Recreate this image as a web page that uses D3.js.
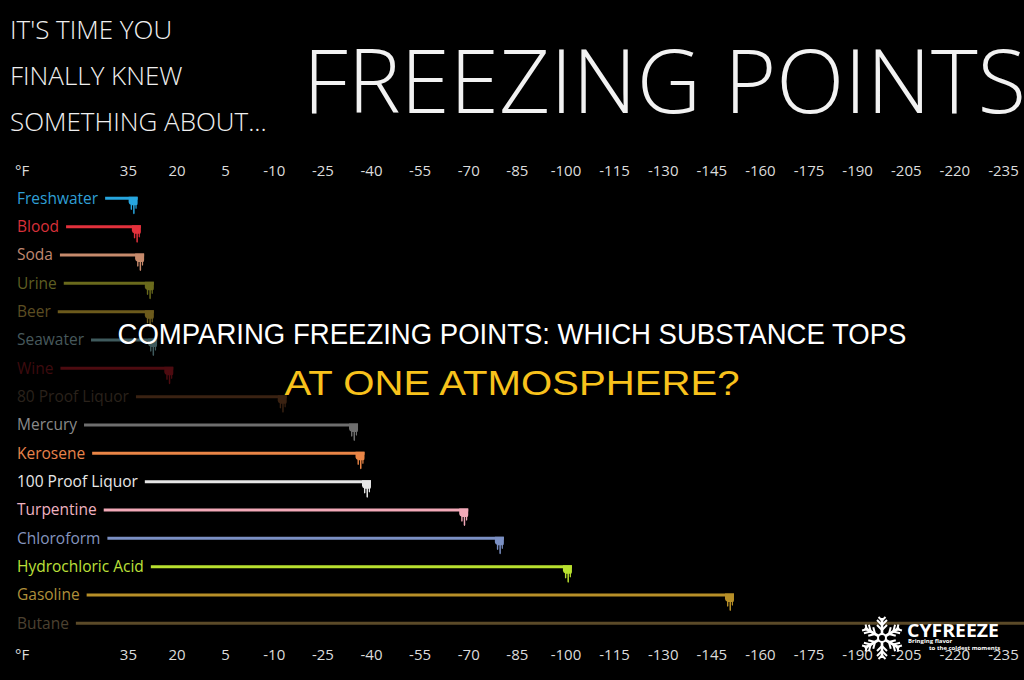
<!DOCTYPE html>
<html><head><meta charset="utf-8">
<script src="https://cdn.jsdelivr.net/npm/d3@7"></script>
<style>html,body{margin:0;padding:0;background:#000;overflow:hidden}</style>
</head><body>
<svg id="c" width="1024" height="680"></svg>
<script>
const substances = ["Freshwater","Blood","Soda","Urine","Beer","Seawater","Wine","80 Proof Liquor","Mercury","Kerosene","100 Proof Liquor","Turpentine","Chloroform","Hydrochloric Acid","Gasoline","Butane"];
const freezingF = [32,31,30,27,27,26,21,-14,-36,-38,-40,-70,-81,-102,-152,-260];
const tickValues = [35,20,5,-10,-25,-40,-55,-70,-85,-100,-115,-130,-145,-160,-175,-190,-205,-220,-235];
const barColors = ["#27a6df","#e3313c","#c68a6c","#6a6a1c","#6c5a1c","#3f5a5d","#4d0b10","#3a2212","#6e6e6e","#ea8546","#e6e6e6","#f2a9b8","#7b90c4","#b9e02f","#b78f28","#5b4a28"];
const labelColors = ["#2f9fd6","#d8303a","#c08870","#5e5e22","#5c4d22","#47595c","#3d0b0e","#2a221b","#8a8a8a","#e8844c","#e8e8e8","#efb2c0","#8595bf","#bde03a","#b08f3a","#4c4130"];
const titleLines = ["IT'S TIME YOU","FINALLY KNEW","SOMETHING ABOUT..."];

const svg = d3.select("#c");
svg.append("rect").attr("width",1024).attr("height",680).attr("fill","#000");

const font = "'Open Sans', 'DejaVu Sans', sans-serif";

// titles
svg.selectAll("text.tl").data(titleLines).enter().append("text")
  .attr("class","tl").attr("x",10).attr("y",(d,i)=>39+i*46)
  .attr("fill","#f0f0f0").style("font-family",font).style("font-size","26px").style("font-weight",300)
  .text(d=>d);
svg.append("text").attr("x",303).attr("y",113)
  .attr("fill","#f2f2f2").style("font-family",font).style("font-size","89px").style("font-weight",300)
  .text("FREEZING POINTS");

const x = d3.scaleLinear().domain([35,-235]).range([127.9,1003]);
const y = d3.scalePoint().domain(substances).range([198.3,623.3]);

function drawAxis(yy){
  const g = svg.append("g").attr("transform",`translate(0,${yy})`)
    .call(d3.axisTop(x).tickValues(tickValues).tickSize(0).tickPadding(0).tickFormat(d=>d));
  g.select(".domain").remove();
  g.selectAll("text").attr("fill","#dcdcdc").style("font-family",font).style("font-size","15px");
  svg.append("text").attr("x",15).attr("y",yy).attr("fill","#dcdcdc")
    .style("font-family",font).style("font-size","15px").text("°F");
}
drawAxis(176);
drawAxis(660);

const rows = substances.map((s,i)=>({name:s,value:freezingF[i],bar:barColors[i],lab:labelColors[i]}));
const row = svg.selectAll("g.row").data(rows).enter().append("g").attr("class","row")
  .attr("transform",d=>`translate(0,${y(d.name)})`);
row.append("text").attr("x",17).attr("y",5.5).attr("fill",d=>d.lab)
  .style("font-family",font).style("font-size","15.5px").text(d=>d.name);
row.each(function(d){
  const t = d3.select(this).select("text").node();
  d.x0 = 17 + t.getComputedTextLength() + 7;
});
row.append("line").attr("x1",d=>d.x0).attr("x2",d=>x(d.value)).attr("y1",0).attr("y2",0)
  .attr("stroke",d=>d.bar).attr("stroke-width",3);
const drip = "M-9,-1.5 H0 V5 Q0,7 -1,7 V10 Q-1.5,11.5 -2.2,10 V7 H-3 V15 Q-3.7,17 -4.5,15 V7 H-5.6 V11 Q-6.3,12.5 -7,11 V6.5 Q-8.5,6 -9,4 Z";
row.append("path").attr("d",drip).attr("fill",d=>d.bar)
  .attr("transform",d=>`translate(${x(d.value)},0)`);

// overlay caption
svg.append("text").attr("x",512).attr("y",344).attr("text-anchor","middle")
  .attr("textLength",789).attr("lengthAdjust","spacingAndGlyphs")
  .attr("fill","#ffffff").style("font-family","'Liberation Sans', Arial, sans-serif").style("font-size","29px")
  .text("COMPARING FREEZING POINTS: WHICH SUBSTANCE TOPS");
svg.append("text").attr("x",512).attr("y",395).attr("text-anchor","middle")
  .attr("textLength",455).attr("lengthAdjust","spacingAndGlyphs")
  .attr("fill","#f8c21c").style("font-family","'Liberation Sans', Arial, sans-serif").style("font-size","35px")
  .text("AT ONE ATMOSPHERE?");

// logo
const logo = svg.append("g").attr("transform","translate(882,638)");
for(let k=0;k<6;k++){
  const a = logo.append("g").attr("transform",`rotate(${k*60})`);
  a.append("line").attr("x1",0).attr("y1",0).attr("x2",0).attr("y2",-20).attr("stroke","#fff").attr("stroke-width",2.6);
  [[-8,5],[-13,5],[-17.5,3.5]].forEach(([p,l])=>{
    a.append("line").attr("x1",0).attr("y1",p).attr("x2",-l).attr("y2",p-l).attr("stroke","#fff").attr("stroke-width",2);
    a.append("line").attr("x1",0).attr("y1",p).attr("x2",l).attr("y2",p-l).attr("stroke","#fff").attr("stroke-width",2);
  });
}
logo.append("circle").attr("r",4).attr("fill","#000").attr("stroke","#fff").attr("stroke-width",2);
svg.append("text").attr("x",907).attr("y",637).attr("fill","#fff")
  .attr("textLength",92).attr("lengthAdjust","spacingAndGlyphs")
  .style("font-family","'Open Sans', sans-serif").style("font-weight",700).style("font-size","17px").text("CYFREEZE");
svg.append("text").attr("x",908).attr("y",643).attr("fill","#fff")
  .style("font-family","'Open Sans', sans-serif").style("font-weight",700).style("font-size","6px").text("Bringing flavor");
svg.append("text").attr("x",929).attr("y",650).attr("fill","#fff")
  .style("font-family","'Open Sans', sans-serif").style("font-weight",700).style("font-size","6px").text("to the coldest moments");
</script>
</body></html>
